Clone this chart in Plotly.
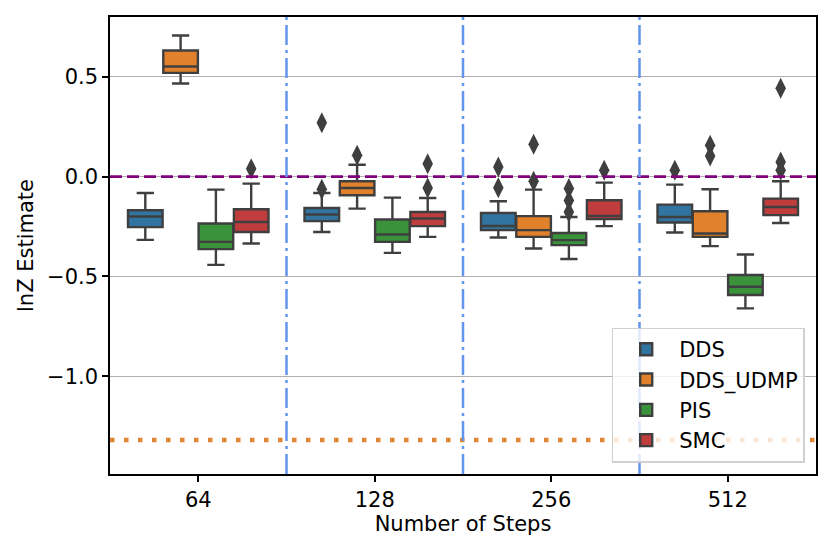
import plotly.graph_objects as go

# steps on the x axis and the four samplers
steps = ['64', '128', '256', '512']
methods = ['DDS', 'DDS_UDMP', 'PIS', 'SMC']
colors = ['#3274a1', '#e1812c', '#3a923a', '#c03d3e']

# box stats per method, one entry per step
lower = {
    'DDS':      [-0.317, -0.277, -0.305, -0.280],
    'DDS_UDMP': [0.467, -0.160, -0.360, -0.348],
    'PIS':      [-0.442, -0.382, -0.413, -0.660],
    'SMC':      [-0.335, -0.302, -0.248, -0.232],
}
q1 = {
    'DDS':      [-0.253, -0.223, -0.268, -0.230],
    'DDS_UDMP': [0.520, -0.093, -0.302, -0.302],
    'PIS':      [-0.363, -0.327, -0.343, -0.593],
    'SMC':      [-0.277, -0.248, -0.213, -0.193],
}
median = {
    'DDS':      [-0.200, -0.190, -0.247, -0.202],
    'DDS_UDMP': [0.552, -0.057, -0.268, -0.285],
    'PIS':      [-0.327, -0.290, -0.318, -0.552],
    'SMC':      [-0.227, -0.210, -0.197, -0.152],
}
q3 = {
    'DDS':      [-0.168, -0.157, -0.182, -0.140],
    'DDS_UDMP': [0.632, -0.023, -0.198, -0.173],
    'PIS':      [-0.235, -0.215, -0.282, -0.493],
    'SMC':      [-0.163, -0.177, -0.118, -0.110],
}
upper = {
    'DDS':      [-0.082, -0.082, -0.123, -0.040],
    'DDS_UDMP': [0.707, 0.060, -0.065, -0.063],
    'PIS':      [-0.065, -0.105, -0.202, -0.390],
    'SMC':      [-0.035, -0.107, -0.030, -0.023],
}
outliers = {
    'DDS':      [[], [0.270, -0.063], [0.048, -0.055], [0.032]],
    'DDS_UDMP': [[], [0.107], [0.162, -0.023], [0.157, 0.103]],
    'PIS':      [[], [], [-0.060, -0.120, -0.177], []],
    'SMC':      [[0.040], [0.065, -0.057], [0.032], [0.443, 0.073, 0.032]],
}

true_lnz = 0.0
baseline = -1.32

# seaborn-style dodge: 0.8 of each category split between the hues
group_width = 0.8
box_w = group_width / len(methods)

fig = go.Figure()

for j, (m, c) in enumerate(zip(methods, colors)):
    off = -group_width / 2 + box_w * (j + 0.5)
    xs = [i + off for i in range(len(steps))]
    fig.add_trace(go.Box(
        x=xs,
        q1=q1[m], median=median[m], q3=q3[m],
        lowerfence=lower[m], upperfence=upper[m],
        name=m,
        width=box_w * 0.98,
        fillcolor=c,
        line=dict(color='#3f3f3f', width=2.4),
        whiskerwidth=0.5,
        boxpoints=False,
        hoverinfo='skip',
    ))
    ox, oy = [], []
    for i, pts in enumerate(outliers[m]):
        ox += [xs[i]] * len(pts)
        oy += pts
    fig.add_trace(go.Scatter(
        x=ox, y=oy, mode='markers', showlegend=False,
        marker=dict(symbol='diamond-tall', size=15, color='#3f3f3f'),
        hoverinfo='skip',
    ))

# reference lines
fig.add_hline(y=true_lnz, line=dict(color='purple', width=2.6, dash='12px,5px'))
fig.add_hline(y=baseline, line=dict(color='#df8533', width=4.5, dash='4.5px,9.5px'))
for i in range(len(steps) - 1):
    fig.add_vline(x=i + 0.5, line=dict(color='#6495ed', width=2.5,
                                       dash='20px,5px,3px,5px'))

fs = 21
tick_font = dict(family='DejaVu Sans', size=fs, color='black')

fig.update_layout(
    width=831, height=553,
    margin=dict(l=102, r=23, t=7, b=87),
    plot_bgcolor='white',
    paper_bgcolor='white',
    showlegend=True,
    font=dict(family='DejaVu Sans', size=fs, color='black'),
    legend=dict(
        x=0.984, y=0.025, xanchor='right', yanchor='bottom',
        bgcolor='rgba(255,255,255,0.8)',
        bordercolor='#d0d0d0', borderwidth=1.5,
        itemwidth=56,
        font=tick_font,
    ),
    xaxis=dict(
        title=dict(text='Number of Steps', standoff=4, font=tick_font),
        range=[-0.5, len(steps) - 0.5],
        tickvals=list(range(len(steps))),
        ticktext=steps,
        tickfont=tick_font,
        showgrid=False, zeroline=False,
        showline=True, linecolor='black', linewidth=1.5, mirror=True,
        ticks='outside', ticklen=6, tickwidth=1.5, tickcolor='black',
    ),
    yaxis=dict(
        title=dict(text='lnZ Estimate', standoff=8, font=tick_font),
        range=[-1.49, 0.80],
        tickvals=[0.5, 0.0, -0.5, -1.0],
        ticktext=['0.5', '0.0', '\u22120.5', '\u22121.0'],
        tickfont=tick_font,
        showgrid=True, gridcolor='#b0b0b0', gridwidth=1.2,
        zeroline=False,
        showline=True, linecolor='black', linewidth=1.5, mirror=True,
        ticks='outside', ticklen=6, tickwidth=1.5, tickcolor='black',
    ),
)

fig.write_html('out.html')
